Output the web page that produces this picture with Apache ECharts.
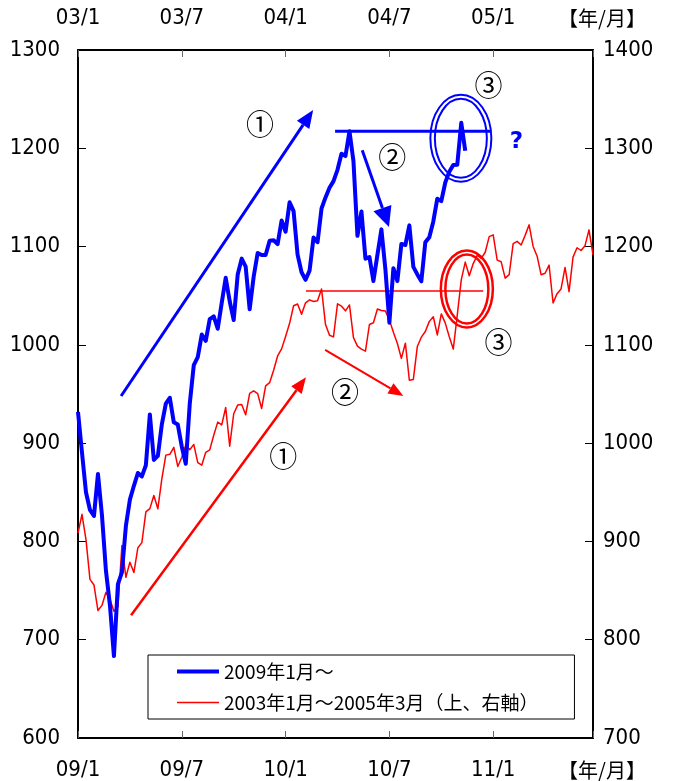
<!DOCTYPE html>
<html>
<head>
<meta charset="utf-8">
<title>2009年～ と 2003年～ の比較</title>
<script src="https://cdn.jsdelivr.net/npm/echarts@6/dist/echarts.min.js"></script>
<style>
html, body { margin: 0; padding: 0; background: #fff; }
#main { width: 676px; height: 781px; }
</style>
</head>
<body>
<div id="main"></div>
<script>
// tick labels
var bottomLabels = ['09/1', '09/7', '10/1', '10/7', '11/1'];
var topLabels = ['03/1', '03/7', '04/1', '04/7', '05/1'];
var unitLabel = '【年/月】';
var seriesNames = ['2009年1月～', '2003年1月～2005年3月（上、右軸）'];

// weekly closes, one value per week
var blue2009 = [931.8, 890.4, 850.1, 832.0, 825.9, 868.6, 826.8, 770.1, 735.1, 683.4,
    756.6, 768.5, 815.9, 842.5, 856.6, 869.6, 866.2, 877.5, 929.2, 882.9,
    887.0, 919.1, 940.1, 946.2, 921.2, 918.9, 896.4, 879.1, 940.4, 979.3,
    987.5, 1010.5, 1004.1, 1026.1, 1028.9, 1016.4, 1042.7, 1068.3, 1044.4, 1025.2,
    1071.5, 1087.7, 1079.6, 1036.2, 1069.3, 1093.5, 1091.4, 1091.5, 1106.0, 1106.4,
    1102.5, 1126.5, 1115.1];
var blue2010 = [1145.0, 1136.0, 1091.8, 1073.9, 1066.2, 1075.5, 1109.2, 1104.5, 1138.7, 1150.0,
    1159.9, 1166.6, 1178.1, 1194.4, 1192.1, 1217.3, 1186.7, 1110.9, 1135.7, 1087.7,
    1089.4, 1064.9, 1091.6, 1117.5, 1076.8, 1022.6, 1078.0, 1064.9, 1102.7, 1101.6,
    1121.6, 1079.3, 1071.7, 1064.6, 1104.5, 1109.6, 1125.6, 1148.7, 1146.2, 1165.2,
    1176.2, 1183.1, 1183.3, 1225.9, 1197.5];

var red2003 = [908.6, 927.6, 901.8, 861.4, 855.7, 829.7, 834.9, 848.2, 841.2, 828.9,
    833.3, 895.8, 863.5, 878.9, 868.3, 893.6, 898.8, 930.1, 933.4, 946.7,
    933.2, 963.6, 987.8, 988.6, 995.7, 976.2, 985.7, 998.1, 993.3, 998.7,
    980.2, 977.6, 990.7, 993.1, 1008.0, 1021.4, 1018.6, 1036.3, 996.9, 1029.9,
    1038.7, 1039.3, 1028.9, 1050.7, 1053.2, 1050.4, 1035.3, 1058.2, 1061.5, 1074.1,
    1088.7, 1095.9];
var red2004 = [1108.5, 1121.9, 1139.8, 1141.6, 1131.1, 1142.8, 1145.8, 1144.1, 1144.9, 1156.9,
    1120.6, 1109.8, 1108.1, 1141.8, 1139.3, 1134.6, 1140.6, 1107.3, 1098.7, 1095.7,
    1093.6, 1120.7, 1122.5, 1136.5, 1135.0, 1134.4, 1125.4, 1112.8, 1101.4, 1086.2,
    1101.7, 1064.0, 1064.8, 1098.4, 1107.8, 1113.6, 1123.9, 1128.6, 1110.1, 1131.5,
    1122.1, 1108.2, 1095.7, 1130.2, 1166.2, 1184.2, 1170.3, 1182.7, 1191.2, 1188.0,
    1194.2, 1210.1, 1211.9];
var red2005 = [1186.2, 1184.5, 1167.9, 1171.4, 1203.0, 1205.3, 1201.6, 1211.4, 1222.1, 1200.1,
    1190.2, 1171.4, 1172.9, 1181.2, 1142.6, 1152.1, 1156.9, 1178.8, 1154.1, 1189.3,
    1198.8, 1196.0, 1200.9, 1217.0, 1191.6];

var numFont = "'Liberation Sans Narrow', 'Arial Narrow', 'DejaVu Sans Condensed', sans-serif";
var cjkFont = "'Noto Sans CJK JP', sans-serif";

function toPairs(vals) {
    return vals.map(function (v, i) { return [i, v]; });
}
var blueData = toPairs(blue2009.concat(blue2010));
var redData = toPairs(red2003.concat(red2004, red2005));

function labelFrom(list) {
    return function (v) {
        var i = Math.round(v / 26);
        return (v % 26 === 0 && i < list.length) ? list[i] : '';
    };
}

function xAxisOf(pos, list) {
    return {
        type: 'value', position: pos, min: 0, max: 129, interval: 26,
        axisLine: { show: true, onZero: false, lineStyle: { color: '#000', width: 2 } },
        axisTick: { show: true, inside: true, length: 7, lineStyle: { color: '#666' } },
        axisLabel: { margin: 21, fontFamily: numFont, fontSize: 22, color: '#000',
            showMaxLabel: true, formatter: labelFrom(list) },
        splitLine: { show: false }
    };
}
function yAxisOf(pos, min, max, margin) {
    return {
        type: 'value', position: pos, min: min, max: max, interval: 100,
        axisLine: { show: true, onZero: false, lineStyle: { color: '#000', width: 2 } },
        axisTick: { show: true, inside: true, length: 8, lineStyle: { color: '#000' } },
        axisLabel: { margin: margin, fontFamily: numFont, fontSize: 22, color: '#000',
            formatter: function (v) { return String(v); } },
        splitLine: { show: false }
    };
}

var myChart = echarts.init(document.getElementById('main'));
var option = {
    animation: false,
    backgroundColor: '#fff',
    grid: { left: 78, right: 83, top: 50, bottom: 43, outerBoundsMode: 'none' },
    legend: {
        orient: 'vertical', left: 148, top: 655,
        padding: [7, 36, 7, 27], itemGap: 12, itemWidth: 42, itemHeight: 18,
        borderColor: '#000', borderWidth: 1, backgroundColor: '#fff',
        itemStyle: { opacity: 0 },
        textStyle: { fontFamily: cjkFont, fontSize: 19, color: '#000' },
        data: [
            { name: seriesNames[0], lineStyle: { width: 4 } },
            { name: seriesNames[1], lineStyle: { width: 1.5 } }
        ]
    },
    xAxis: [xAxisOf('bottom', bottomLabels), xAxisOf('top', topLabels)],
    yAxis: [yAxisOf('left', 600, 1300, 18), yAxisOf('right', 700, 1400, 10)],
    series: [
        {
            name: seriesNames[1], type: 'line', xAxisIndex: 1, yAxisIndex: 1,
            data: redData, symbol: 'none', z: 2,
            lineStyle: { color: '#ff0000', width: 1.5, join: 'round' },
            itemStyle: { color: '#ff0000' }
        },
        {
            name: seriesNames[0], type: 'line', xAxisIndex: 0, yAxisIndex: 0,
            data: blueData, symbol: 'none', z: 3,
            lineStyle: { color: '#0000ff', width: 4, join: 'round' },
            itemStyle: { color: '#0000ff' }
        }
    ]
};
myChart.setOption(option);

// annotations, placed in (week, left-axis value) coordinates
function px(p) {
    return myChart.convertToPixel({ xAxisIndex: 0, yAxisIndex: 0 }, p);
}
function arrow(from, to, color, width, headLen, headWid) {
    var a = px(from), b = px(to);
    var dx = b[0] - a[0], dy = b[1] - a[1];
    var len = Math.sqrt(dx * dx + dy * dy);
    var ux = dx / len, uy = dy / len;
    var bx = b[0] - ux * headLen, by = b[1] - uy * headLen;
    return [
        { type: 'line', z: 1, shape: { x1: a[0], y1: a[1], x2: bx, y2: by },
          style: { stroke: color, lineWidth: width } },
        { type: 'polygon', z: 1,
          shape: { points: [[b[0], b[1]],
              [bx - uy * headWid / 2, by + ux * headWid / 2],
              [bx + uy * headWid / 2, by - ux * headWid / 2]] },
          style: { fill: color } }
    ];
}
function hline(x1, x2, y, color, width) {
    var a = px([x1, y]), b = px([x2, y]);
    return { type: 'line', z: 1, shape: { x1: a[0], y1: a[1], x2: b[0], y2: b[1] },
        style: { stroke: color, lineWidth: width } };
}
function ring(c, rx, ry, color, width) {
    var p = px(c);
    return { type: 'ellipse', z: 1, shape: { cx: p[0], cy: p[1], rx: rx, ry: ry },
        style: { fill: 'none', stroke: color, lineWidth: width } };
}
function label(at, text, color, font) {
    var p = px(at);
    return { type: 'text', z: 5, style: { x: p[0], y: p[1], text: text, fill: color,
        font: font, align: 'center', verticalAlign: 'middle' } };
}

var circFont = "28px " + cjkFont;
var blue = '#0000ff', red = '#ff0000';
var marks = [];
marks = marks.concat(arrow([10.8, 948], [58.9, 1239], blue, 3, 18, 15));
marks = marks.concat(arrow([71.2, 1198], [77.9, 1120], blue, 3, 20, 19));
marks = marks.concat(arrow([13.3, 725], [57.1, 967], red, 2.5, 16, 13));
marks = marks.concat(arrow([61.9, 995], [81.5, 948], red, 2, 15, 12));
marks.push(hline(64.4, 103.5, 1217.3, blue, 3));
marks.push(hline(57.1, 101.5, 1054.8, red, 1.5));
marks.push(ring([95.9, 1210.2], 30.5, 43.5, blue, 2));
marks.push(ring([95.9, 1210.2], 26, 39.5, blue, 2));
marks.push(ring([97.4, 1056.9], 26, 38.5, red, 2.5));
marks.push(ring([97.4, 1056.9], 21.5, 34.5, red, 2.5));
marks.push(label([45.6, 1224], '①', '#000', circFont));
marks.push(label([78.7, 1191], '②', '#000', circFont));
marks.push(label([102.8, 1264], '③', '#000', circFont));
marks.push(label([51.4, 887], '①', '#000', circFont));
marks.push(label([66.9, 952], '②', '#000', circFont));
marks.push(label([105.3, 1003], '③', '#000', circFont));
marks.push(label([109.8, 1206], '?', blue, "bold 23px 'DejaVu Sans', sans-serif"));

// 【年/月】 beside the top and bottom tick labels
var gridRight = px([129, 600]);
var gridTop = px([129, 1300]);
marks.push({ type: 'text', z: 5, style: { x: gridRight[0] + 9, y: gridTop[1] - 32, text: unitLabel,
    fill: '#000', font: "20px " + cjkFont, align: 'center', verticalAlign: 'middle' } });
marks.push({ type: 'text', z: 5, style: { x: gridRight[0] + 9, y: gridRight[1] + 32, text: unitLabel,
    fill: '#000', font: "20px " + cjkFont, align: 'center', verticalAlign: 'middle' } });

myChart.setOption({ graphic: { elements: marks } });
</script>
</body>
</html>
